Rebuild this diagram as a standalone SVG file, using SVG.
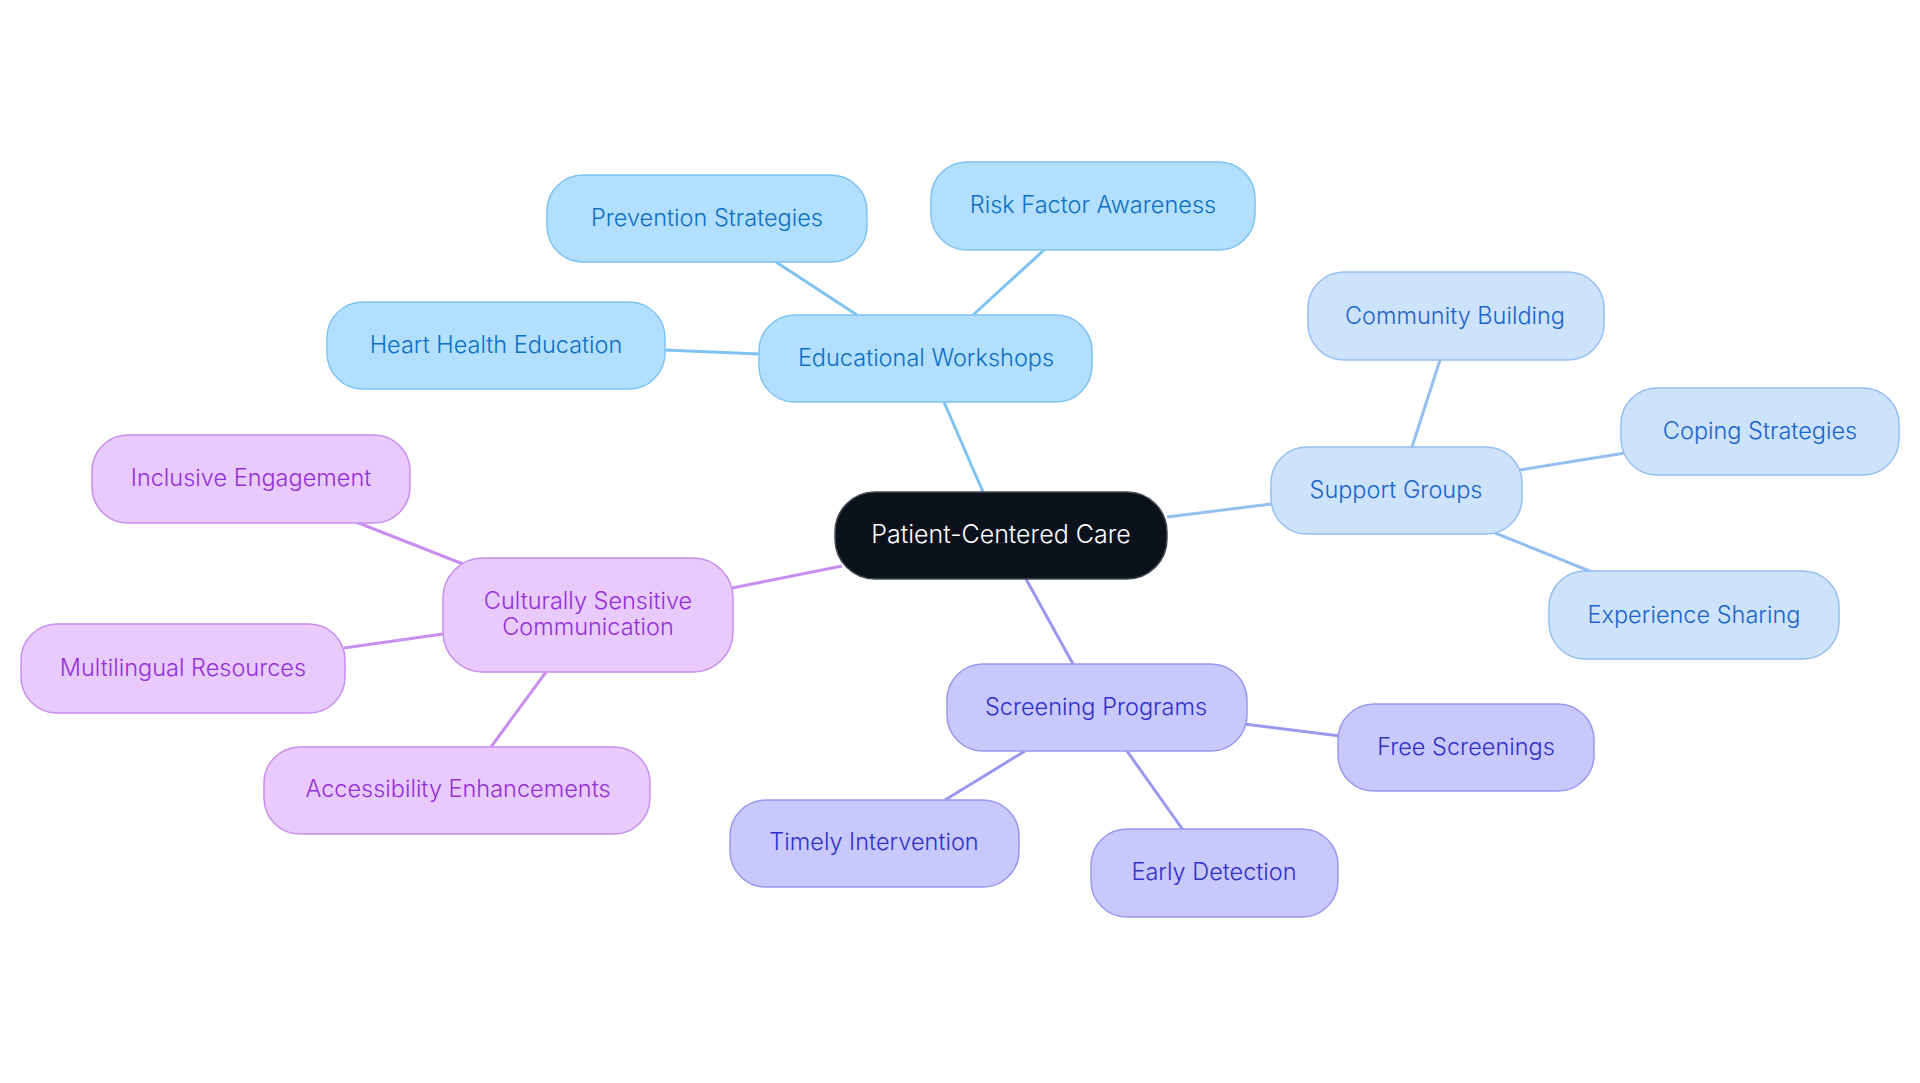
<svg xmlns="http://www.w3.org/2000/svg" width="1920" height="1083" viewBox="0 0 1920 1083">
<style>
text{font-family:Inter,"Noto Sans","Liberation Sans",sans-serif;font-size:23.5px;font-weight:300;text-anchor:middle;dominant-baseline:central}
#center text{font-size:25px;fill:#ffffff}
.edge{fill:none;stroke-width:3}
.b rect{fill:#b3dffe;stroke:#7ec3f2;stroke-width:1.5}.b text{fill:#0b6fc4}
.s rect{fill:#cde3fb;stroke:#94c0f0;stroke-width:1.5}.s text{fill:#1a64cc}
.p rect{fill:#c8c8fc;stroke:#9898f0;stroke-width:1.5}.p text{fill:#3030c8}
.v rect{fill:#e8cafc;stroke:#c88ef0;stroke-width:1.5}.v text{fill:#9430d8}
.eb{stroke:#7ec3f2}.es{stroke:#94c0f0}.ep{stroke:#9898f0}.ev{stroke:#c88ef0}
</style>
<rect width="1920" height="1083" fill="#ffffff"/>
<g id="connectors">
<line class="edge eb" x1="983" y1="492" x2="944" y2="402"/>
<line class="edge eb" x1="857" y1="315" x2="776" y2="262"/>
<line class="edge eb" x1="973" y1="315" x2="1044" y2="250"/>
<line class="edge eb" x1="759" y1="354" x2="665" y2="350"/>
<line class="edge es" x1="1167" y1="517" x2="1271" y2="504"/>
<line class="edge es" x1="1412" y1="447" x2="1440" y2="360"/>
<line class="edge es" x1="1520" y1="470" x2="1625" y2="453"/>
<line class="edge es" x1="1495" y1="533" x2="1592" y2="572"/>
<line class="edge ep" x1="1026" y1="579" x2="1073" y2="664"/>
<line class="edge ep" x1="1244" y1="724" x2="1340" y2="736"/>
<line class="edge ep" x1="1127" y1="751" x2="1183" y2="830"/>
<line class="edge ep" x1="1025" y1="751" x2="945" y2="800"/>
<line class="edge ev" x1="842" y1="566" x2="732" y2="588"/>
<line class="edge ev" x1="463" y1="564" x2="356" y2="522"/>
<line class="edge ev" x1="443" y1="634" x2="344" y2="648"/>
<line class="edge ev" x1="546" y1="672" x2="491" y2="747"/>
</g>
<g id="center"><rect x="835" y="492" width="332" height="87" rx="40" fill="#0c121c" stroke="#444b55" stroke-width="1.5"/><text x="1001" y="534">Patient-Centered Care</text></g>
<g id="educational" class="b"><rect x="759" y="315" width="333" height="87" rx="36"/><text x="926" y="357">Educational Workshops</text></g>
<g id="prevention" class="b"><rect x="547" y="175" width="320" height="87" rx="36"/><text x="707" y="217">Prevention Strategies</text></g>
<g id="risk" class="b"><rect x="931" y="162" width="324" height="88" rx="36"/><text x="1093" y="204">Risk Factor Awareness</text></g>
<g id="heart" class="b"><rect x="327" y="302" width="338" height="87" rx="36"/><text x="496" y="344">Heart Health Education</text></g>
<g id="support" class="s"><rect x="1271" y="447" width="251" height="87" rx="36"/><text x="1396" y="489">Support Groups</text></g>
<g id="community" class="s"><rect x="1308" y="272" width="296" height="88" rx="36"/><text x="1455" y="315">Community Building</text></g>
<g id="coping" class="s"><rect x="1621" y="388" width="278" height="87" rx="36"/><text x="1760" y="430">Coping Strategies</text></g>
<g id="experience" class="s"><rect x="1549" y="571" width="290" height="88" rx="36"/><text x="1694" y="614">Experience Sharing</text></g>
<g id="screening" class="p"><rect x="947" y="664" width="300" height="87" rx="36"/><text x="1096" y="706">Screening Programs</text></g>
<g id="free" class="p"><rect x="1338" y="704" width="256" height="87" rx="36"/><text x="1466" y="746">Free Screenings</text></g>
<g id="early" class="p"><rect x="1091" y="829" width="247" height="88" rx="36"/><text x="1214" y="871">Early Detection</text></g>
<g id="timely" class="p"><rect x="730" y="800" width="289" height="87" rx="36"/><text x="874" y="841">Timely Intervention</text></g>
<g id="culturally" class="v"><rect x="443" y="558" width="290" height="114" rx="40"/><text x="588" y="600">Culturally Sensitive</text><text x="588" y="626">Communication</text></g>
<g id="inclusive" class="v"><rect x="92" y="435" width="318" height="88" rx="36"/><text x="251" y="477">Inclusive Engagement</text></g>
<g id="multilingual" class="v"><rect x="21" y="624" width="324" height="89" rx="36"/><text x="183" y="667">Multilingual Resources</text></g>
<g id="accessibility" class="v"><rect x="264" y="747" width="386" height="87" rx="36"/><text x="458" y="788">Accessibility Enhancements</text></g>
</svg>
